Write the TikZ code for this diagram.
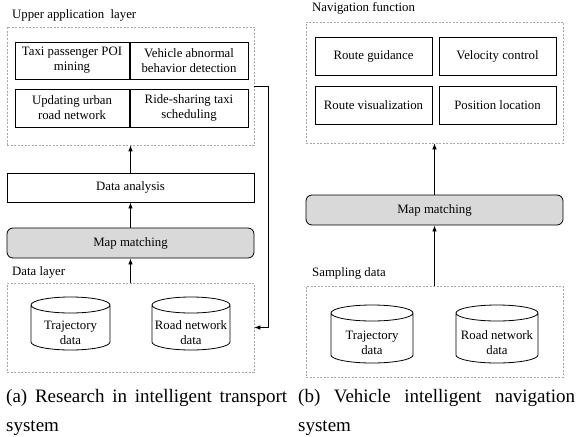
\documentclass[tikz,border=0pt]{standalone}
\usepackage{fontspec}
\setmainfont{Liberation Serif}
\usetikzlibrary{arrows.meta}
\tikzset{
  box/.style={draw, line width=0.8pt, fill=white, align=center, inner sep=1pt},
  dashbox/.style={draw=gray!70, line width=0.6pt, dash pattern=on 2pt off 1.5pt},
  mmbox/.style={draw, line width=0.8pt, fill=gray!30, rounded corners=6pt},
  cylline/.style={draw, line width=0.8pt, fill=white},
  lbl/.style={anchor=west, inner sep=0pt},
  arr/.style={line width=0.8pt, -{Latex[length=6pt,width=4.5pt]}},
  captxt/.style={anchor=base west, inner sep=0pt, font=\fontsize{19}{23}\selectfont}
}
\newcommand\mycyl[6]{%
  \draw[cylline] (#2-#5, -#3-8) -- (#2-#5, -#4+8)
    arc[start angle=180, end angle=360, x radius=#5pt, y radius=8pt]
    -- (#2+#5, -#3-8)
    arc[start angle=0, end angle=360, x radius=#5pt, y radius=8pt];
  \node[align=center, inner sep=0pt] (#1) at (#2, -#3/2-#4/2-9) {#6};}
\begin{document}
\begin{tikzpicture}[x=1pt, y=1pt, font=\fontsize{12.8}{15}\selectfont]
\useasboundingbox[fill=white] (0,0) rectangle (577,-436);

% ---------- (a) ----------
\node[lbl] (ualbl) at (12,-15) {Upper application\ \ layer};
\node[dashbox, minimum width=247pt, minimum height=118pt] (upA) at (130.5,-86) {};
\node[box, minimum width=114pt, minimum height=37pt] (tpoi) at (72,-60.5) {Taxi passenger POI\\mining};
\node[box, minimum width=118pt, minimum height=37pt] (vabd) at (189,-60.5) {Vehicle abnormal\\behavior detection};
\node[box, minimum width=114pt, minimum height=38pt] (uurn) at (72,-108) {Updating urban\\road network};
\node[box, minimum width=118pt, minimum height=38pt] (rsts) at (189,-108) {Ride-sharing taxi\\scheduling};

\node[box, minimum width=247pt, minimum height=29pt] (da) at (130.5,-187.5) {Data analysis};
\node[mmbox, minimum width=247pt, minimum height=30pt] (mmA) at (130.5,-243) {Map matching};

\node[lbl] (dllbl) at (12,-272) {Data layer};
\node[dashbox, minimum width=247pt, minimum height=89pt] (dl) at (130.5,-327.5) {};
\mycyl{trajA}{70.5}{297}{350}{39.5}{Trajectory\\data}
\mycyl{roadA}{191}{297}{350}{39}{Road network\\data}

\draw[arr] (dl.north) -- (mmA.south);
\draw[arr] (mmA.north) -- (da.south);
\draw[arr] (da.north) -- (upA.south);
\draw[arr] (upA.east) -- ++(14,0) |- (dl.east);

\node[captxt] (capa) at (6,-402) {\makebox[281pt][s]{(a) Research in intelligent transport}};
\node[captxt] (capa2) at (6,-431) {system};

% ---------- (b) ----------
\node[lbl] (nflbl) at (312,-8) {Navigation function};
\node[dashbox, minimum width=257pt, minimum height=121pt] (nav) at (434.5,-82.5) {};
\node[box, minimum width=117pt, minimum height=38pt] (rg) at (373.5,-56) {Route guidance};
\node[box, minimum width=117pt, minimum height=38pt] (vc) at (497.5,-56) {Velocity control};
\node[box, minimum width=117pt, minimum height=38pt] (rv) at (373.5,-105) {Route visualization};
\node[box, minimum width=117pt, minimum height=38pt] (pl) at (497.5,-105) {Position location};

\node[mmbox, minimum width=257pt, minimum height=30pt] (mmB) at (434.5,-210) {Map matching};

\node[lbl] (sdlbl) at (312,-273) {Sampling data};
\node[dashbox, minimum width=257pt, minimum height=91pt] (sd) at (434.5,-331.5) {};
\mycyl{trajB}{372}{305}{363}{41}{Trajectory\\data}
\mycyl{roadB}{497}{305}{363}{41}{Road network\\data}

\draw[arr] (sd.north) -- (mmB.south);
\draw[arr] (mmB.north) -- (nav.south);

\node[captxt] (capb) at (298,-402) {\makebox[277pt][s]{(b) Vehicle intelligent navigation}};
\node[captxt] (capb2) at (298,-431) {system};
\end{tikzpicture}
\end{document}
